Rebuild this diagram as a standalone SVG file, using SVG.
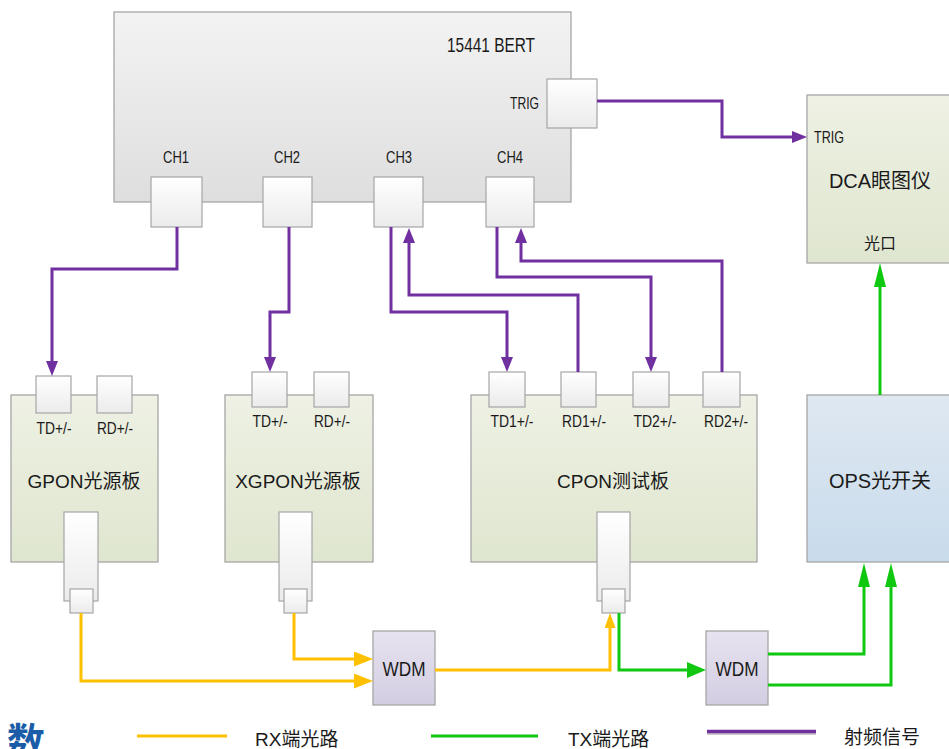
<svg xmlns="http://www.w3.org/2000/svg" width="949" height="749" viewBox="0 0 949 749">
<style>
text{font-family:"Liberation Sans","Noto Sans CJK SC",sans-serif;fill:#1a1a1a}
.box{stroke:#a6a6a6;stroke-width:1.3}
.port{fill:url(#gPort);stroke:#a6a6a6;stroke-width:1.2}
.big{font-size:19px;text-anchor:middle}
.sm{font-size:16px;text-anchor:middle}
.p{fill:none;stroke:#7030a0;stroke-width:3}
.y{fill:none;stroke:#ffc000;stroke-width:3}
.g{fill:none;stroke:#11c811;stroke-width:3}
</style>
<defs>
<linearGradient id="gBert" x1="0" y1="0" x2="0" y2="1"><stop offset="0" stop-color="#f3f3f3"/><stop offset="1" stop-color="#dedede"/></linearGradient>
<linearGradient id="gBoard" x1="0" y1="0" x2="0" y2="1"><stop offset="0" stop-color="#eef1e4"/><stop offset="1" stop-color="#dfe6cf"/></linearGradient>
<linearGradient id="gOps" x1="0" y1="0" x2="0" y2="1"><stop offset="0" stop-color="#dfe8f1"/><stop offset="1" stop-color="#c8dbec"/></linearGradient>
<linearGradient id="gWdm" x1="0" y1="0" x2="0" y2="1"><stop offset="0" stop-color="#e7e3ef"/><stop offset="1" stop-color="#d3cde2"/></linearGradient>
<linearGradient id="gPort" x1="0" y1="0" x2="0" y2="1"><stop offset="0" stop-color="#ffffff"/><stop offset="1" stop-color="#ebebeb"/></linearGradient>
<marker id="mP" markerUnits="userSpaceOnUse" markerWidth="16" markerHeight="12" refX="2" refY="6" orient="auto"><path d="M0,0 L15,6 L0,12 z" fill="#7030a0"/></marker>
<marker id="mY" markerUnits="userSpaceOnUse" markerWidth="20" markerHeight="15" refX="2" refY="7.5" orient="auto"><path d="M0,0 L19,7.5 L0,15 z" fill="#ffc000"/></marker>
<marker id="mYs" markerUnits="userSpaceOnUse" markerWidth="16" markerHeight="11" refX="2" refY="5.5" orient="auto"><path d="M0,0 L15,5.5 L0,11 z" fill="#ffc000"/></marker>
<marker id="mG" markerUnits="userSpaceOnUse" markerWidth="20" markerHeight="16" refX="2" refY="8" orient="auto"><path d="M0,0 L19,8 L0,16 z" fill="#11c811"/></marker>
<marker id="mGl" markerUnits="userSpaceOnUse" markerWidth="25" markerHeight="12" refX="2" refY="6" orient="auto"><path d="M0,0 L24,6 L0,12 z" fill="#11c811"/></marker>
</defs>

<g id="bert">
<rect class="box" x="114" y="12" width="457" height="190" fill="url(#gBert)"/>
<text x="535" y="52" font-size="21" text-anchor="end" textLength="88" lengthAdjust="spacingAndGlyphs">15441 BERT</text>
<text x="539" y="109" font-size="17" text-anchor="end" textLength="29" lengthAdjust="spacingAndGlyphs">TRIG</text>
<text x="176" y="163" font-size="17" text-anchor="middle" textLength="26" lengthAdjust="spacingAndGlyphs">CH1</text>
<text x="287" y="163" font-size="17" text-anchor="middle" textLength="26" lengthAdjust="spacingAndGlyphs">CH2</text>
<text x="399" y="163" font-size="17" text-anchor="middle" textLength="26" lengthAdjust="spacingAndGlyphs">CH3</text>
<text x="510" y="163" font-size="17" text-anchor="middle" textLength="26" lengthAdjust="spacingAndGlyphs">CH4</text>
<rect id="ch1" class="port" x="151" y="177" width="51" height="50"/>
<rect id="ch2" class="port" x="263" y="177" width="49" height="50"/>
<rect id="ch3" class="port" x="374" y="177" width="49" height="50"/>
<rect id="ch4" class="port" x="486" y="177" width="48" height="50"/>
<rect id="trig" class="port" x="547" y="79" width="50" height="49"/>
</g>

<g id="dca">
<rect class="box" x="807" y="95" width="145" height="168" fill="url(#gBoard)"/>
<text x="814" y="143" font-size="17" textLength="30" lengthAdjust="spacingAndGlyphs">TRIG</text>
<text x="880" y="188" font-size="20" text-anchor="middle">DCA眼图仪</text>
<text x="880" y="249" font-size="16" text-anchor="middle" fill="#333">光口</text>
</g>

<g id="gpon">
<rect class="box" x="11" y="395" width="147" height="167" fill="url(#gBoard)"/>
<rect class="port" x="36" y="376" width="35" height="37"/>
<rect class="port" x="97" y="376" width="35" height="37"/>
<text class="sm" x="54" y="434" textLength="35" lengthAdjust="spacingAndGlyphs">TD+/-</text>
<text class="sm" x="115" y="434" textLength="36" lengthAdjust="spacingAndGlyphs">RD+/-</text>
<text class="big" x="84" y="488">GPON光源板</text>
<rect class="port" x="64" y="512" width="34" height="89"/>
<rect class="port" x="70" y="589" width="23" height="24"/>
</g>

<g id="xgpon">
<rect class="box" x="225" y="395" width="148" height="167" fill="url(#gBoard)"/>
<rect class="port" x="252" y="372" width="35" height="35"/>
<rect class="port" x="314" y="372" width="35" height="35"/>
<text class="sm" x="270" y="427" textLength="35" lengthAdjust="spacingAndGlyphs">TD+/-</text>
<text class="sm" x="332" y="427" textLength="36" lengthAdjust="spacingAndGlyphs">RD+/-</text>
<text class="big" x="298" y="488">XGPON光源板</text>
<rect class="port" x="279" y="512" width="33" height="89"/>
<rect class="port" x="284" y="589" width="23" height="24"/>
</g>

<g id="cpon">
<rect class="box" x="471" y="395" width="286" height="167" fill="url(#gBoard)"/>
<rect class="port" x="489" y="372" width="36" height="35"/>
<rect class="port" x="561" y="372" width="35" height="35"/>
<rect class="port" x="633" y="372" width="36" height="35"/>
<rect class="port" x="703" y="372" width="37" height="35"/>
<text class="sm" x="512" y="427" textLength="43" lengthAdjust="spacingAndGlyphs">TD1+/-</text>
<text class="sm" x="584" y="427" textLength="44" lengthAdjust="spacingAndGlyphs">RD1+/-</text>
<text class="sm" x="655" y="427" textLength="43" lengthAdjust="spacingAndGlyphs">TD2+/-</text>
<text class="sm" x="726" y="427" textLength="44" lengthAdjust="spacingAndGlyphs">RD2+/-</text>
<text class="big" x="613" y="488">CPON测试板</text>
<rect class="port" x="597" y="512" width="33" height="89"/>
<rect class="port" x="602" y="589" width="23" height="24"/>
</g>

<g id="ops">
<rect class="box" x="807" y="395" width="145" height="167" fill="url(#gOps)"/>
<text x="880" y="488" font-size="20" text-anchor="middle">OPS光开关</text>
</g>

<g id="wdm1">
<rect class="box" x="373" y="631" width="62" height="74" fill="url(#gWdm)"/>
<text x="404" y="676" font-size="20" text-anchor="middle" textLength="43" lengthAdjust="spacingAndGlyphs">WDM</text>
</g>

<g id="wdm2">
<rect class="box" x="706" y="631" width="62" height="74" fill="url(#gWdm)"/>
<text x="737" y="676" font-size="20" text-anchor="middle" textLength="43" lengthAdjust="spacingAndGlyphs">WDM</text>
</g>

<g id="connectors">
<path class="p" d="M177,227 V269 H52 V363" marker-end="url(#mP)"/>
<path class="p" d="M289,227 V312 H270 V359" marker-end="url(#mP)"/>
<path class="p" d="M391,227 V312 H507 V359" marker-end="url(#mP)"/>
<path class="p" d="M578,372 V295 H409 V241" marker-end="url(#mP)"/>
<path class="p" d="M497,227 V277 H651 V359" marker-end="url(#mP)"/>
<path class="p" d="M722,372 V261 H521 V241" marker-end="url(#mP)"/>
<path class="p" d="M597,101 H722 V137 H794" marker-end="url(#mP)"/>
<path class="y" d="M81,613 V681 H356" marker-end="url(#mY)"/>
<path class="y" d="M294,613 V659 H356" marker-end="url(#mY)"/>
<path class="y" d="M435,670 H610 V626" marker-end="url(#mYs)"/>
<path class="g" d="M619,613 V670 H689" marker-end="url(#mG)"/>
<path class="g" d="M768,654 H864 V585" marker-end="url(#mGl)"/>
<path class="g" d="M768,685 H891 V585" marker-end="url(#mGl)"/>
<path class="g" d="M880,395 V285" marker-end="url(#mGl)"/>
</g>

<g id="legend">
<path class="y" d="M137,736 H227"/>
<text x="255" y="746" font-size="19">RX端光路</text>
<path class="g" d="M431,736 H538"/>
<text x="568" y="746" font-size="19">TX端光路</text>
<path d="M707,733.5 H816" stroke="#c8c8c8" stroke-width="3"/>
<path d="M707,731.5 H816" stroke="#7030a0" stroke-width="3.5"/>
<text x="844" y="744" font-size="19">射频信号</text>
</g>

<text x="7" y="755" font-size="38" font-weight="bold" style="fill:#1a5ca8">数</text>
</svg>
